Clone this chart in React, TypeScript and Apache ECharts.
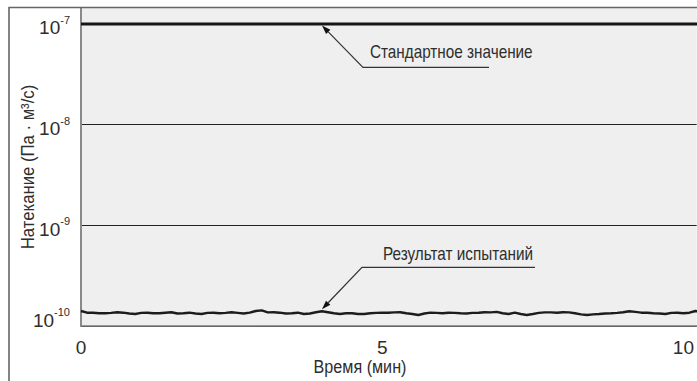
import React, { useEffect, useRef } from "react";
import * as echarts from "echarts";

// Time axis (minutes) for the measured result curve
const timeMinutes = [
  0, 0.1, 0.2, 0.3, 0.4, 0.5, 0.6, 0.7, 0.8, 0.9,
  1.0, 1.1, 1.2, 1.3, 1.4, 1.5, 1.6, 1.7, 1.8, 1.9,
  2.0, 2.1, 2.2, 2.3, 2.4, 2.5, 2.6, 2.7, 2.8, 2.9,
  3.0, 3.1, 3.2, 3.3, 3.4, 3.5, 3.6, 3.7, 3.8, 3.9,
  4.0, 4.1, 4.2, 4.3, 4.4, 4.5, 4.6, 4.7, 4.8, 4.9,
  5.0, 5.1, 5.2, 5.3, 5.4, 5.5, 5.6, 5.7, 5.8, 5.9,
  6.0, 6.1, 6.2, 6.3, 6.4, 6.5, 6.6, 6.7, 6.8, 6.9,
  7.0, 7.1, 7.2, 7.3, 7.4, 7.5, 7.6, 7.7, 7.8, 7.9,
  8.0, 8.1, 8.2, 8.3, 8.4, 8.5, 8.6, 8.7, 8.8, 8.9,
  9.0, 9.1, 9.2, 9.3, 9.4, 9.5, 9.6, 9.7, 9.8, 9.9,
  10.0, 10.1, 10.2, 10.3,
];

// Measured leak rate (Pa·m³/s), "Результат испытаний"
const resultLeak = [
  1.41e-10, 1.356e-10, 1.356e-10, 1.338e-10, 1.338e-10, 1.35e-10, 1.37e-10, 1.356e-10, 1.33e-10, 1.316e-10,
  1.35e-10, 1.356e-10, 1.338e-10, 1.338e-10, 1.356e-10, 1.37e-10, 1.33e-10, 1.338e-10, 1.356e-10, 1.33e-10,
  1.316e-10, 1.35e-10, 1.356e-10, 1.338e-10, 1.35e-10, 1.37e-10, 1.35e-10, 1.33e-10, 1.356e-10, 1.41e-10,
  1.43e-10, 1.365e-10, 1.37e-10, 1.356e-10, 1.33e-10, 1.338e-10, 1.356e-10, 1.316e-10, 1.33e-10, 1.37e-10,
  1.40e-10, 1.37e-10, 1.338e-10, 1.316e-10, 1.338e-10, 1.338e-10, 1.316e-10, 1.316e-10, 1.338e-10, 1.35e-10,
  1.356e-10, 1.356e-10, 1.365e-10, 1.37e-10, 1.338e-10, 1.316e-10, 1.286e-10, 1.33e-10, 1.356e-10, 1.35e-10,
  1.338e-10, 1.356e-10, 1.35e-10, 1.338e-10, 1.33e-10, 1.35e-10, 1.356e-10, 1.37e-10, 1.365e-10, 1.38e-10,
  1.338e-10, 1.316e-10, 1.356e-10, 1.316e-10, 1.286e-10, 1.316e-10, 1.35e-10, 1.365e-10, 1.365e-10, 1.356e-10,
  1.37e-10, 1.365e-10, 1.338e-10, 1.305e-10, 1.286e-10, 1.305e-10, 1.316e-10, 1.33e-10, 1.338e-10, 1.35e-10,
  1.37e-10, 1.40e-10, 1.38e-10, 1.356e-10, 1.356e-10, 1.338e-10, 1.33e-10, 1.316e-10, 1.35e-10, 1.356e-10,
  1.338e-10, 1.356e-10, 1.41e-10, 1.38e-10,
];

// Standard value line "Стандартное значение"
const standardTimes = [0, 10.3];
const standardLeak = [1e-7, 1e-7];

// Axis settings / labels
const xTickInterval = 5;
const xMax = 10.22;
const yMin = 1e-10;
const yMax = 1.44e-7;
const xAxisTitle = "Время (мин)";
const yAxisTitle = "Натекание (Па · м³/с)";

// Annotations: text and the data point the arrow points at
const annotationTexts = ["Стандартное значение", "Результат испытаний"];
const annotationTimes = [4.0, 4.0];
const annotationValues = [1e-7, 1.4e-10];

const FONT = "'Liberation Sans', Arial, sans-serif";
const TEXT = "#2e2e2e";
const NARROW = 0.85;

export default function App() {
  const ref = useRef<HTMLDivElement>(null);

  useEffect(() => {
    if (!ref.current) return;
    const chart = echarts.init(ref.current, null, { renderer: "svg" });

    chart.setOption({
      animation: false,
      textStyle: { fontFamily: FONT },
      grid: {
        left: 81,
        top: 8,
        right: 0,
        bottom: 55,
        show: true,
        backgroundColor: "#eeefee",
        borderWidth: 0,
      },
      xAxis: {
        type: "value",
        min: 0,
        max: xMax,
        interval: xTickInterval,
        axisLine: { show: true, lineStyle: { color: "#7d7d7d", width: 1.5 } },
        axisTick: { show: false },
        splitLine: { show: false },
        axisLabel: {
          fontSize: 19,
          color: TEXT,
          margin: 12,
          showMaxLabel: false,
          fontFamily: FONT,
        },
      },
      yAxis: {
        type: "log",
        logBase: 10,
        min: yMin,
        max: yMax,
        axisLine: { show: true, onZero: false, lineStyle: { color: "#8a8a8a", width: 2 } },
        axisTick: { show: false },
        splitLine: {
          show: true,
          showMaxLine: false,
          lineStyle: { color: "#222", width: 1 },
        },
        axisLabel: {
          showMaxLabel: false,
          margin: 11,
          padding: [4, 0, 0, 0],
          formatter: (v: number) => {
            const e = Math.round(Math.log10(v));
            if (e <= -10) return `{bl|10}{s|${e}}`;
            return `{b|10}{s|${e}}`;
          },
          rich: {
            b: { fontSize: 19, color: TEXT, fontFamily: FONT, padding: [4, 0, 0, 0] },
            bl: { fontSize: 19, color: TEXT, fontFamily: FONT, padding: [4, 0, 20, 0] },
            s: { fontSize: 11, color: TEXT, fontFamily: FONT, verticalAlign: "top" },
          },
        },
      },
      series: [
        {
          type: "line",
          data: standardTimes.map((t, i) => [t, standardLeak[i]]),
          showSymbol: false,
          lineStyle: { color: "#161616", width: 3 },
          z: 3,
        },
        {
          type: "line",
          data: timeMinutes.map((t, i) => [t, resultLeak[i]]),
          showSymbol: false,
          lineStyle: { color: "#1c1c1c", width: 2.4 },
          z: 3,
        },
      ],
    });

    // Annotation geometry (relative to arrow tip)
    const layouts = [
      { tipDy: 1.5, kneeDx: 41, kneeDy: 42, lineLen: 126, textDx: 7, textDy: -15 },
      { tipDy: -2, kneeDx: 40, kneeDy: -42, lineLen: 173, textDx: 21, textDy: -13 },
    ];

    const graphics: any[] = [];
    annotationTexts.forEach((txt, i) => {
      const p = chart.convertToPixel({ gridIndex: 0 }, [annotationTimes[i], annotationValues[i]]) as number[];
      const L = layouts[i];
      const tx = p[0];
      const ty = p[1] + L.tipDy;
      const kx = tx + L.kneeDx;
      const ky = ty + L.kneeDy;
      const dx = tx - kx;
      const dy = ty - ky;
      const len = Math.sqrt(dx * dx + dy * dy);
      const ux = dx / len;
      const uy = dy / len;
      const headL = 9;
      const headW = 3;
      const bx = tx - ux * headL;
      const by = ty - uy * headL;
      graphics.push({
        type: "polyline",
        silent: true,
        z: 10,
        shape: { points: [[kx + L.lineLen, ky], [kx, ky], [bx, by]] },
        style: { stroke: "#333", lineWidth: 1.2, fill: null },
      });
      graphics.push({
        type: "polygon",
        silent: true,
        z: 10,
        shape: {
          points: [
            [tx, ty],
            [bx - uy * headW, by + ux * headW],
            [bx + uy * headW, by - ux * headW],
          ],
        },
        style: { fill: "#111", stroke: null },
      });
      graphics.push({
        type: "text",
        silent: true,
        z: 10,
        x: kx + L.textDx,
        y: ky + L.textDy,
        scaleX: NARROW,
        style: {
          text: txt,
          fontSize: 18,
          fontFamily: FONT,
          fill: TEXT,
          align: "left",
          verticalAlign: "middle",
        },
      });
    });

    // x axis title
    graphics.push({
      type: "text",
      silent: true,
      z: 10,
      x: 360,
      y: 367,
      scaleX: NARROW,
      style: {
        text: xAxisTitle,
        fontSize: 19,
        fontFamily: FONT,
        fill: TEXT,
        align: "center",
        verticalAlign: "middle",
      },
    });

    // y axis title
    graphics.push({
      type: "text",
      silent: true,
      z: 10,
      x: 28,
      y: 167,
      rotation: Math.PI / 2,
      scaleX: 0.88,
      style: {
        text: yAxisTitle,
        fontSize: 19,
        fontFamily: FONT,
        fill: TEXT,
        align: "center",
        verticalAlign: "middle",
      },
    });

    // outer frame
    graphics.push({
      type: "polyline",
      silent: true,
      z: 20,
      shape: { points: [[9, 400], [9, 7.5], [720, 7.5]] },
      style: { stroke: "#666", lineWidth: 1.6, fill: null },
    });

    chart.setOption({ graphic: graphics });

    return () => {
      chart.dispose();
    };
  }, []);

  return (
    <div
      ref={ref}
      style={{ position: "fixed", left: 0, top: 0, width: 697, height: 381, background: "#fff", overflow: "hidden" }}
    />
  );
}
